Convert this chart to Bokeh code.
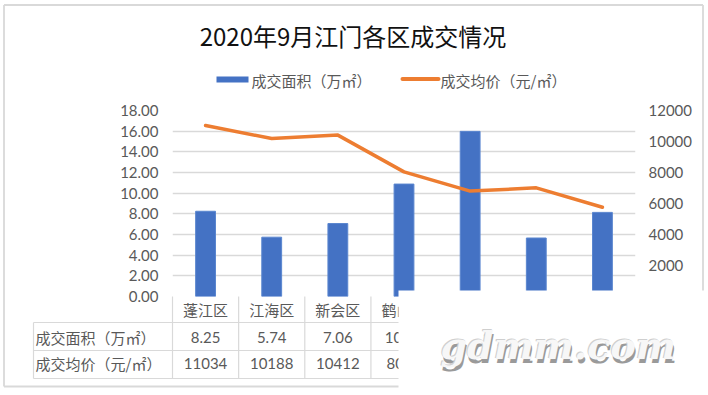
from bokeh.plotting import figure
from bokeh.models import Range1d, LinearAxis, NumeralTickFormatter, ColumnDataSource
from bokeh.core.properties import value
from bokeh.embed import file_html
from bokeh.resources import INLINE

title_text = "2020年9月江门各区成交情况"
categories = ["蓬江区", "江海区", "新会区", "鹤山市", "台山市", "开平市", "恩平市"]
area = [8.25, 5.74, 7.06, 10.88, 15.98, 5.66, 8.14]
price = [11034, 10188, 10412, 8040, 6800, 7010, 5760]
area_name = "成交面积（万㎡）"
price_name = "成交均价（元/㎡）"
left_ticks = [0, 2, 4, 6, 8, 10, 12, 14, 16, 18]
right_ticks = [0, 2000, 4000, 6000, 8000, 10000, 12000]
watermark = ["gdmm.com"]

CN = "Noto Sans CJK SC"
NUM = "Lato"
GRAY = "#595959"
GRID = "#d9d9d9"
BLUE = "#4472C4"
ORANGE = "#ED7D31"

W, H = 708, 395
FL, FR, FT, FB = 172, 73, 110, 99
FRAME_H = H - FT - FB
PXU = FRAME_H / 18.0                   # px per left-axis unit
CW = (W - FL - FR) / len(categories)   # px per category


def xd(px):
    return (px - FL) / CW


def yd(py):
    return (FT + FRAME_H - py) / PXU


p = figure(width=W, height=H, x_range=categories, y_range=Range1d(0, 18),
           output_backend="svg", toolbar_location=None,
           min_border_left=FL, min_border_right=FR, min_border_top=FT, min_border_bottom=FB)
p.outline_line_color = None
p.background_fill_color = "white"
p.border_fill_color = "white"

# left axis
ya = p.yaxis[0]
ya.ticker = left_ticks
ya.formatter = NumeralTickFormatter(format="0.00")
ya.axis_line_color = None
ya.major_tick_line_color = None
ya.minor_tick_line_color = None
ya.major_tick_out = 0
ya.major_label_standoff = 14
ya.major_label_text_font = NUM
ya.major_label_text_font_size = "15px"
ya.major_label_text_color = GRAY

# right axis
p.extra_y_ranges = {"price": Range1d(0, 12000)}
ax_r = LinearAxis(y_range_name="price", ticker=right_ticks,
                  formatter=NumeralTickFormatter(format="0"))
ax_r.axis_line_color = None
ax_r.major_tick_line_color = None
ax_r.minor_tick_line_color = None
ax_r.major_tick_out = 0
ax_r.major_label_standoff = 13
ax_r.major_label_text_font = NUM
ax_r.major_label_text_font_size = "15px"
ax_r.major_label_text_color = GRAY
p.add_layout(ax_r, "right")

# category axis (header row of the data table)
xa = p.xaxis[0]
xa.axis_line_color = None
xa.major_tick_line_color = None
xa.minor_tick_line_color = None
xa.major_tick_out = 0
xa.major_label_standoff = 2
xa.major_label_text_font = CN
xa.major_label_text_font_size = "15px"
xa.major_label_text_color = GRAY

p.xgrid.visible = False
p.ygrid.ticker = left_ticks
p.ygrid.grid_line_color = GRID
p.ygrid.grid_line_width = 1.3

src = ColumnDataSource(dict(
    cat=categories, area=area, price=price,
    area_txt=[f"{v:.2f}" for v in area],
    price_txt=[str(v) for v in price],
))

bars = p.vbar(x="cat", top="area", width=0.3, source=src,
              fill_color=BLUE, line_color="#5a86cf", line_width=1)
line = p.line(x="cat", y="price", y_range_name="price", source=src,
              line_color=ORANGE, line_width=3.5, line_join="round", line_cap="round")

OV = dict(level="overlay")

# title
p.text(x=[xd(352.5)], y=[yd(35)], text=[title_text], text_align="center",
       text_baseline="middle", text_font=value(CN), text_font_size="24px",
       text_color="#111111", **OV)

# legend (drawn by hand above the plot area)
p.quad(left=[xd(216)], right=[xd(248)], top=[yd(76)], bottom=[yd(82)],
       fill_color=BLUE, line_color=None, **OV)
p.segment(x0=[xd(402)], x1=[xd(438)], y0=[yd(78.5)], y1=[yd(78.5)],
          line_color=ORANGE, line_width=4, line_cap="round", **OV)
p.text(x=[xd(251), xd(440)], y=[yd(80), yd(80)], text=[area_name, price_name],
       text_align="left", text_baseline="middle", text_font=value(CN),
       text_font_size="15px", text_color=GRAY, **OV)

# data table: grid lines
n = len(categories)
r1, r2, r3 = yd(322), yd(350), yd(378)
lx = xd(33)
x0 = [float(i) for i in range(n + 1)] + [lx, lx, lx, lx]
y0 = [0.0] * (n + 1) + [r1, r1, r2, r3]
x1 = [float(i) for i in range(n + 1)] + [lx, float(n), float(n), float(n)]
y1 = [r3] * (n + 1) + [r3, r1, r2, r3]
p.segment(x0=x0, y0=y0, x1=x1, y1=y1, line_color=GRID, line_width=1.2, **OV)

# outer chart border
bl, br, bt, bb = xd(3.5), xd(702.5), yd(4.5), yd(386)
p.segment(x0=[bl, bl, br, bl], y0=[bt, bt, bt, bb], x1=[br, bl, br, br], y1=[bt, bb, bb, bb],
          line_color=GRID, line_width=1.8, **OV)

# data table: values and row labels
p.text(x="cat", y=yd(336.5), text="area_txt", source=src, text_align="center",
       text_baseline="middle", text_font=value(NUM), text_font_size="15px",
       text_color=GRAY, **OV)
p.text(x="cat", y=yd(363.3), text="price_txt", source=src, text_align="center",
       text_baseline="middle", text_font=value(NUM), text_font_size="15px",
       text_color=GRAY, **OV)
p.text(x=[xd(35), xd(35)], y=[yd(336.5), yd(363.3)], text=[area_name, price_name],
       text_align="left", text_baseline="middle", text_font=value(CN),
       text_font_size="15px", text_color=GRAY, **OV)

# watermark overlay box
p.quad(left=[xd(398)], right=[xd(760)], top=[yd(290)], bottom=[yd(440)],
       fill_color="white", line_color=None, **OV)
wx, wy = [xd(440)], [yd(345)]
WM = dict(text_font=value("DejaVu Serif"), text_font_style="bold italic",
          text_font_size="38px", text_baseline="alphabetic", **OV)
p.text(x=wx, y=wy, text=watermark, text_color="#9a9a9a", x_offset=1, y_offset=4, **WM)
p.text(x=wx, y=wy, text=watermark, text_color="#cfcfcf", x_offset=-1, y_offset=-1, **WM)
p.text(x=wx, y=wy, text=watermark, text_color="#f7f7f7", **WM)

open("out.html", "w").write(file_html(p, INLINE))
